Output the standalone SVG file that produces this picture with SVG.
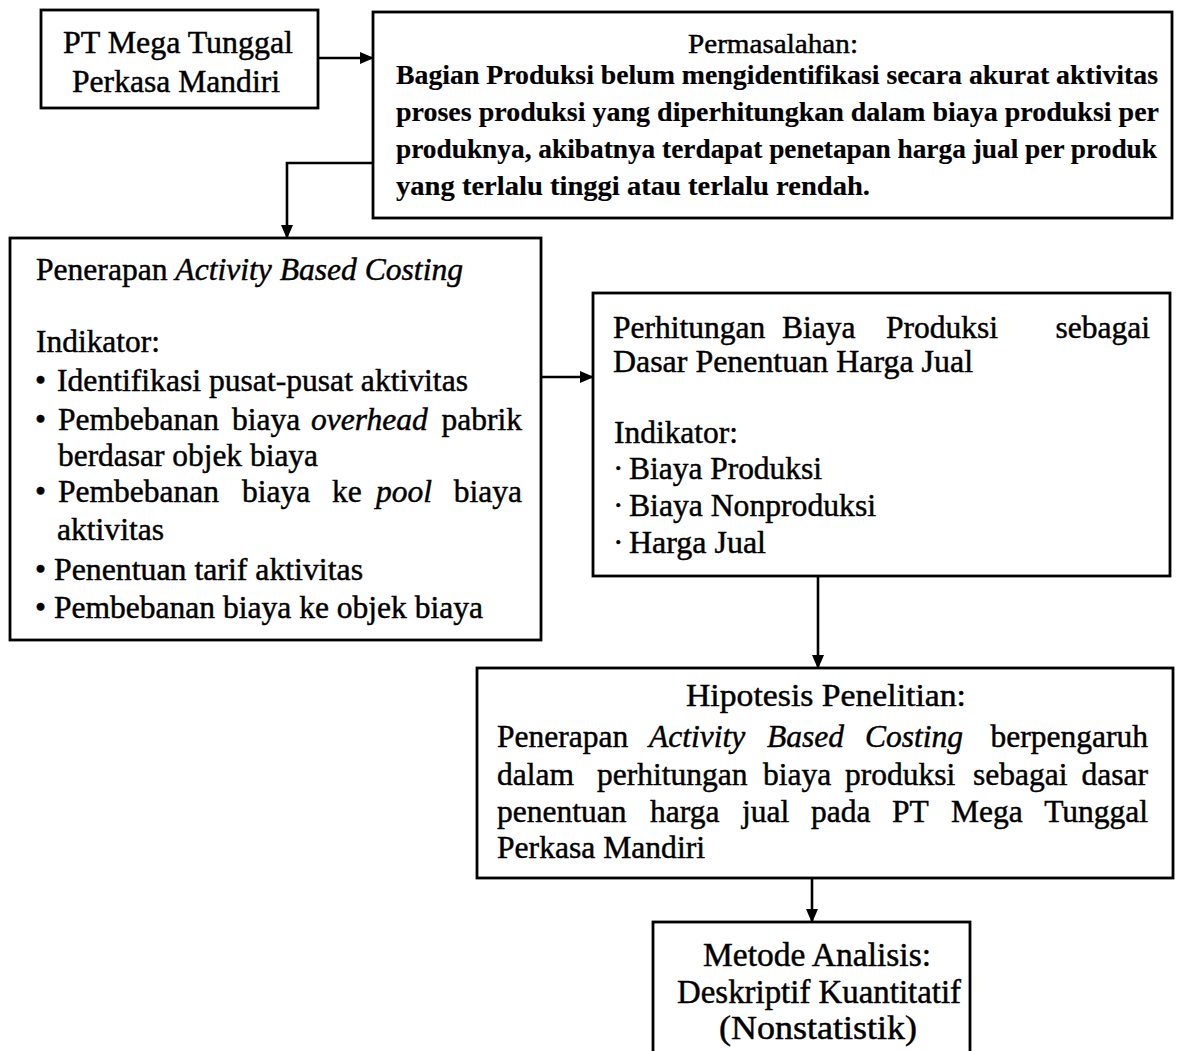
<svg xmlns="http://www.w3.org/2000/svg" width="1185" height="1051" viewBox="0 0 1185 1051">
<style>
.box{fill:#fff;stroke:#000;stroke-width:2.8}
.t{font-family:"Liberation Serif","Times New Roman",serif;font-size:31.5px;fill:#000;stroke:#000;stroke-width:0.45}
.b{font-size:27px;font-weight:bold;stroke-width:0.15}
.p{font-size:28px}
.big{font-size:33px}
.e{text-anchor:end}
.i{font-style:italic}
.con{fill:none;stroke:#000;stroke-width:2.6}
</style>
<defs>
<marker id="ah" markerUnits="userSpaceOnUse" markerWidth="14" markerHeight="12" refX="13" refY="6" orient="auto">
<path d="M0,0 L14,6 L0,12 z" fill="#000"/>
</marker>
</defs>
<rect width="1185" height="1051" fill="#fff"/>
<g id="connectors">
<line class="con" x1="318" y1="58" x2="373" y2="58" marker-end="url(#ah)"/>
<polyline class="con" points="373,163 287,163 287,238" marker-end="url(#ah)"/>
<line class="con" x1="541" y1="377" x2="593" y2="377" marker-end="url(#ah)"/>
<line class="con" x1="818" y1="576" x2="818" y2="668" marker-end="url(#ah)"/>
<line class="con" x1="812" y1="878" x2="812" y2="922" marker-end="url(#ah)"/>
</g>
<g id="n1">
<rect class="box" x="41" y="10" width="277" height="98"/>
<text class="t" x="63" y="53" textLength="230" lengthAdjust="spacingAndGlyphs">PT Mega Tunggal</text>
<text class="t" x="72" y="92" textLength="208" lengthAdjust="spacingAndGlyphs">Perkasa Mandiri</text>
</g>
<g id="n2">
<rect class="box" x="373" y="12" width="799" height="206"/>
<text class="t p" x="688" y="53" textLength="170" lengthAdjust="spacingAndGlyphs">Permasalahan:</text>
<text class="t b" x="396" y="84" textLength="762" lengthAdjust="spacingAndGlyphs">Bagian Produksi belum mengidentifikasi secara akurat aktivitas</text>
<text class="t b" x="396" y="121" textLength="763" lengthAdjust="spacingAndGlyphs">proses produksi yang diperhitungkan dalam biaya produksi per</text>
<text class="t b" x="396" y="158" textLength="761" lengthAdjust="spacingAndGlyphs">produknya, akibatnya terdapat penetapan harga jual per produk</text>
<text class="t b" x="396" y="195" textLength="474" lengthAdjust="spacingAndGlyphs">yang terlalu tinggi atau terlalu rendah.</text>
</g>
<g id="n3">
<rect class="box" x="10" y="238" width="531" height="402"/>
<text class="t" x="36" y="280" textLength="427" lengthAdjust="spacingAndGlyphs">Penerapan <tspan class="i">Activity Based Costing</tspan></text>
<text class="t" x="36" y="352" textLength="124" lengthAdjust="spacingAndGlyphs">Indikator:</text>
<text class="t" x="35" y="391">•</text>
<text class="t" x="57" y="391" textLength="411" lengthAdjust="spacingAndGlyphs">Identifikasi pusat-pusat aktivitas</text>
<text class="t" x="35" y="430">•</text>
<text class="t" y="430"><tspan x="58">Pembebanan</tspan><tspan x="232">biaya</tspan><tspan x="311" class="i">overhead</tspan></text>
<text class="t e" x="522" y="430">pabrik</text>
<text class="t" x="58" y="466" textLength="260" lengthAdjust="spacingAndGlyphs">berdasar objek biaya</text>
<text class="t" x="35" y="502">•</text>
<text class="t" y="502"><tspan x="58">Pembebanan</tspan><tspan x="242">biaya</tspan><tspan x="332">ke</tspan><tspan x="376" class="i">pool</tspan></text>
<text class="t e" x="522" y="502">biaya</text>
<text class="t" x="57" y="540" textLength="107" lengthAdjust="spacingAndGlyphs">aktivitas</text>
<text class="t" x="35" y="580">•</text>
<text class="t" x="54" y="580" textLength="309" lengthAdjust="spacingAndGlyphs">Penentuan tarif aktivitas</text>
<text class="t" x="35" y="618">•</text>
<text class="t" x="54" y="618" textLength="429" lengthAdjust="spacingAndGlyphs">Pembebanan biaya ke objek biaya</text>
</g>
<g id="n4">
<rect class="box" x="593" y="293" width="577" height="283"/>
<text class="t" y="338"><tspan x="613">Perhitungan</tspan><tspan x="782">Biaya</tspan><tspan x="886">Produksi</tspan></text>
<text class="t e" x="1150" y="338">sebagai</text>
<text class="t" x="613" y="372" textLength="360" lengthAdjust="spacingAndGlyphs">Dasar Penentuan Harga Jual</text>
<text class="t" x="614" y="443" textLength="124" lengthAdjust="spacingAndGlyphs">Indikator:</text>
<text class="t" x="613" y="479">·</text>
<text class="t" x="629" y="479" textLength="193" lengthAdjust="spacingAndGlyphs">Biaya Produksi</text>
<text class="t" x="613" y="516">·</text>
<text class="t" x="629" y="516" textLength="247" lengthAdjust="spacingAndGlyphs">Biaya Nonproduksi</text>
<text class="t" x="613" y="553">·</text>
<text class="t" x="629" y="553" textLength="137" lengthAdjust="spacingAndGlyphs">Harga Jual</text>
</g>
<g id="n5">
<rect class="box" x="477" y="668" width="696" height="210"/>
<text class="t" x="686" y="706" textLength="280" lengthAdjust="spacingAndGlyphs">Hipotesis Penelitian:</text>
<text class="t" y="747"><tspan x="497">Penerapan</tspan><tspan x="649" class="i">Activity</tspan><tspan x="767" class="i">Based</tspan><tspan x="865" class="i">Costing</tspan></text>
<text class="t e" x="1148" y="747">berpengaruh</text>
<text class="t" y="785"><tspan x="497">dalam</tspan><tspan x="597">perhitungan</tspan><tspan x="763">biaya</tspan><tspan x="845">produksi</tspan><tspan x="973">sebagai</tspan></text>
<text class="t e" x="1148" y="785">dasar</text>
<text class="t" y="822"><tspan x="497">penentuan</tspan><tspan x="650">harga</tspan><tspan x="742">jual</tspan><tspan x="811">pada</tspan><tspan x="892">PT</tspan><tspan x="951">Mega</tspan></text>
<text class="t e" x="1148" y="822">Tunggal</text>
<text class="t" x="497" y="858" textLength="208" lengthAdjust="spacingAndGlyphs">Perkasa Mandiri</text>
</g>
<g id="n6">
<rect class="box" x="653" y="922" width="317" height="140"/>
<text class="t big" x="703" y="966" textLength="228" lengthAdjust="spacingAndGlyphs">Metode Analisis:</text>
<text class="t big" x="677" y="1003" textLength="284" lengthAdjust="spacingAndGlyphs">Deskriptif Kuantitatif</text>
<text class="t big" x="719" y="1039" textLength="198" lengthAdjust="spacingAndGlyphs">(Nonstatistik)</text>
</g>
</svg>
